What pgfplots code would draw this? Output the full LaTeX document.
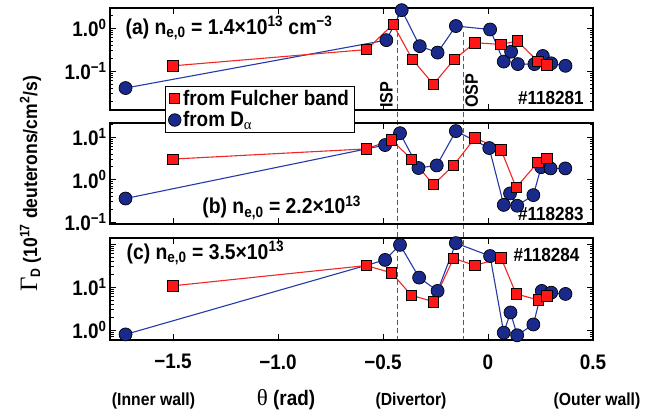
\documentclass[border=0pt]{standalone}
\usepackage{pgfplots}
\pgfplotsset{compat=1.18}
\usepackage{fontspec}
\setmainfont{Liberation Sans}[FakeStretch=0.9]
\newfontfamily\serif{Liberation Serif}

\definecolor{redfill}{RGB}{255,22,22}
\definecolor{redline}{RGB}{238,40,40}
\definecolor{bluefill}{RGB}{26,42,140}
\definecolor{blueline}{RGB}{36,58,168}

\pgfplotsset{
  mypanel/.style={
    scale only axis, width=483pt, anchor=south west,
    xmin=-1.8, xmax=0.5, clip=false,
    axis line style={line width=1.2pt},
    every tick/.style={black, line width=0.7pt},
    major tick length=6pt, minor tick length=3.5pt,
    xtick={-1.5,-1,-0.5,0,0.5}, xticklabels={},
    tick label style={font=\fontsize{21}{23}\selectfont\bfseries},
    xticklabel style={yshift=-11pt},
  },
  bluep/.style={color=blueline, line width=1.1pt, mark=*, mark size=6.5pt,
    mark options={fill=bluefill, draw=black, line width=0.7pt}},
  redp/.style={color=redline, line width=1.1pt, mark=square*, mark size=5.2pt,
    mark options={fill=redfill, draw=black, line width=0.7pt}},
}
\tikzset{dashline/.style={gray!70!black, line width=0.8pt, dash pattern=on 5pt off 3pt},
  lab/.style={font=\fontsize{21.5}{23}\selectfont\bfseries},
  shot/.style={font=\fontsize{19}{22}\selectfont\bfseries}}

\begin{document}
\bfseries
\begin{tikzpicture}
\path[use as bounding box] (0,0) rectangle (654pt,-414pt);

% (a)
\begin{axis}[mypanel, ymode=log, at={(110pt,-110pt)}, height=102pt,
  ymin=0.0123, ymax=2.951,
  ytick={0.1,1}, yticklabels={1.0\textsuperscript{−1},1.0\textsuperscript{0}},
  minor ytick={0.02,0.03,0.04,0.05,0.06,0.07,0.08,0.09,0.2,0.3,0.4,0.5,0.6,0.7,0.8,0.9,2}]
\draw[dashline] (axis cs:-0.431,2.951) -- ++(0pt,-332pt);
\draw[dashline] (axis cs:-0.118,0.8) -- ++(0pt,-308pt);
\addplot[bluep, forget plot] coordinates {
  (-1.726,0.040) (-0.484,0.525) (-0.411,2.63) (-0.325,0.380) (-0.240,0.269)
  (-0.153,1.12) (0.010,0.93) (0.075,0.166) (0.110,0.282) (0.142,0.145)
  (0.221,0.145) (0.261,0.224) (0.301,0.151) (0.369,0.132)};
\addplot[redp, forget plot] coordinates {
  (-1.5,0.132) (-0.578,0.316) (-0.452,1.23) (-0.360,0.186) (-0.260,0.049)
  (-0.161,0.186) (-0.062,0.457) (0.062,0.417) (0.139,0.50) (0.237,0.170)
  (0.280,0.138)};
\node[lab, anchor=base west] at (rel axis cs:0.025,0.745)
  {(a) n\textsubscript{e,0} = 1.4×10\textsuperscript{13} cm\textsuperscript{−3}};
\node[shot, anchor=base east] at (rel axis cs:0.988,0.05) {\#118281};
\node[rotate=90, anchor=base west, font=\fontsize{18}{20}\selectfont\bfseries, inner sep=0pt] at (axis cs:-0.454,0.0138) {ISP};
\node[rotate=90, anchor=base west, font=\fontsize{18}{20}\selectfont\bfseries, inner sep=0pt] at (axis cs:-0.048,0.0138) {OSP};
\end{axis}

% (b)
\begin{axis}[mypanel, ymode=log, at={(110pt,-224pt)}, height=101pt,
  ymin=0.089, ymax=21.4,
  ytick={0.1,1,10}, yticklabels={1.0\textsuperscript{−1},1.0\textsuperscript{0},1.0\textsuperscript{1}},
  minor ytick={0.2,0.3,0.4,0.5,0.6,0.7,0.8,0.9,2,3,4,5,6,7,8,9,20},
  legend style={at={(rel axis cs:0.114,1.366)}, anchor=north west,
    font=\fontsize{21}{23}\selectfont\bfseries, draw=black, line width=0.8pt, fill=white,
    inner xsep=3pt, inner ysep=2pt, row sep=0.5pt},
  legend cell align=left,
  legend image code/.code={\draw[#1] plot coordinates {(0pt,0pt)};}]
\addplot[bluep, forget plot] coordinates {
  (-1.726,0.355) (-0.49,6.46) (-0.419,12.3) (-0.331,1.86) (-0.244,2.14)
  (-0.153,13.8) (0.006,5.50) (0.075,0.251) (0.105,0.468) (0.139,0.240)
  (0.216,0.427) (0.253,1.95) (0.298,1.82) (0.368,1.82)};
\addplot[redp, forget plot] coordinates {
  (-1.5,3.02) (-0.58,5.25) (-0.459,8.51) (-0.365,3.02) (-0.26,0.76)
  (-0.164,2.14) (-0.062,9.55) (0.062,5.01) (0.134,0.646) (0.237,2.51)
  (0.280,3.16)};
\addlegendimage{only marks, mark=square*, mark size=5pt, mark options={fill=redfill, draw=black, line width=0.7pt}}
\addlegendentry{from Fulcher band}
\addlegendimage{only marks, mark=*, mark size=6.3pt, mark options={fill=bluefill, draw=black, line width=0.7pt}}
\addlegendentry{from D\textsubscript{\serif\mdseries α}}
\node[lab, anchor=base west] at (rel axis cs:0.184,0.1)
  {(b) n\textsubscript{e,0} = 2.2×10\textsuperscript{13}};
\node[shot, anchor=base east] at (rel axis cs:0.988,0.03) {\#118283};
\end{axis}

% (c)
\begin{axis}[mypanel, ymode=log, at={(110pt,-340pt)}, height=102pt,
  ymin=0.589, ymax=138,
  ytick={1,10,100}, yticklabels={1.0\textsuperscript{0},1.0\textsuperscript{1},{}},
  minor ytick={0.6,0.7,0.8,0.9,2,3,4,5,6,7,8,9,20,30,40,50,60,70,80,90},
  xticklabels={−1.5,−1.0,−0.5,0,0.5}]
\addplot[bluep, forget plot] coordinates {
  (-1.726,0.794) (-0.49,42.7) (-0.419,95.5) (-0.328,16.6) (-0.24,8.13)
  (-0.153,105) (0.010,52.5) (0.075,0.871) (0.107,2.57) (0.139,0.759)
  (0.216,1.35) (0.256,8.13) (0.301,7.41) (0.369,6.92)};
\addplot[redp, forget plot] coordinates {
  (-1.5,10.7) (-0.58,31.6) (-0.459,21.4) (-0.365,6.46) (-0.26,4.57)
  (-0.164,46.8) (-0.062,31.6) (0.062,47.9) (0.134,6.92) (0.24,5.01)
  (0.28,6.31)};
\node[lab, anchor=base west] at (rel axis cs:0.027,0.794)
  {(c) n\textsubscript{e,0} = 3.5×10\textsuperscript{13}};
\node[shot, anchor=base east] at (rel axis cs:0.979,0.765) {\#118284};
\end{axis}

\node[rotate=90, anchor=base, font=\fontsize{19.5}{22}\selectfont\bfseries] at (37pt,-184pt)
  {{\serif\mdseries\fontsize{25}{27}\selectfont Γ}\textsubscript{D} (10\textsuperscript{17} deuterons/cm\textsuperscript{2}/s)};
\node[anchor=base, font=\fontsize{21}{23}\selectfont\bfseries] at (286pt,-406pt) {{\serif\mdseries\fontsize{23}{25}\selectfont θ} (rad)};
\node[anchor=base, font=\fontsize{17.5}{20}\selectfont\bfseries] at (153.5pt,-406pt) {(Inner wall)};
\node[anchor=base, font=\fontsize{17.5}{20}\selectfont\bfseries] at (411pt,-406pt) {(Divertor)};
\node[anchor=base, font=\fontsize{17.5}{20}\selectfont\bfseries] at (597pt,-406pt) {(Outer wall)};
\end{tikzpicture}
\end{document}
